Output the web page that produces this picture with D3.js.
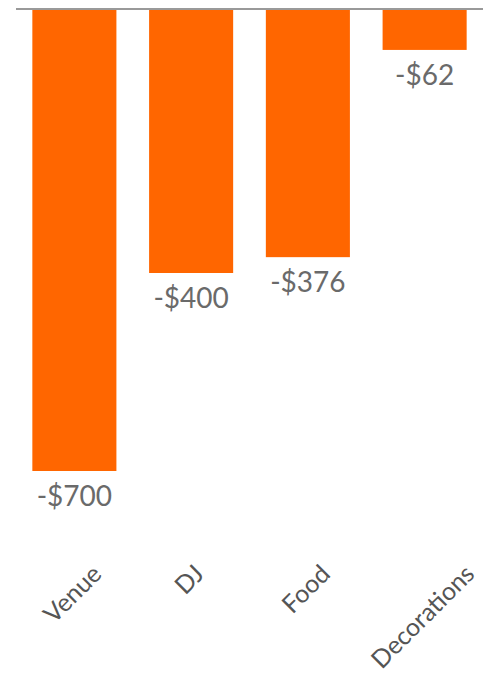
<!DOCTYPE html>
<html>
<head>
<meta charset="utf-8">
<script src="https://cdn.jsdelivr.net/npm/d3@7"></script>
<style>
  body { margin: 0; background: #fff; }
  svg { display: block; font-family: Lato, sans-serif; }
</style>
</head>
<body>
<svg id="chart" width="488" height="675"></svg>
<script>
const categories = ["Venue", "DJ", "Food", "Decorations"];
const values = [-700, -400, -376, -62];

const svg = d3.select("#chart");
const margin = {top: 9, left: 16, right: 5};

const x = d3.scaleBand()
    .domain(categories)
    .range([margin.left, 488 - margin.right])
    .paddingInner(0.28)
    .paddingOuter(0.14);

const y = d3.scaleLinear()
    .domain([0, -700])
    .range([margin.top, 471]);

svg.append("g")
    .selectAll("rect")
    .data(values)
    .enter().append("rect")
    .attr("x", (d, i) => x(categories[i]))
    .attr("width", x.bandwidth())
    .attr("y", y(0))
    .attr("height", d => y(d) - y(0))
    .attr("fill", "#ff6600");

// baseline
svg.append("line")
    .attr("x1", margin.left)
    .attr("x2", 488 - margin.right)
    .attr("y1", y(0))
    .attr("y2", y(0))
    .attr("stroke", "#999")
    .attr("stroke-width", 2);

svg.append("g")
    .selectAll("text")
    .data(values)
    .enter().append("text")
    .attr("x", (d, i) => x(categories[i]) + x.bandwidth() / 2)
    .attr("y", d => y(d) + 35)
    .attr("text-anchor", "middle")
    .attr("font-size", 28)
    .attr("fill", "#6a6a6a")
    .text(d => "-$" + Math.abs(d));

// category labels: centred on the bar, rotated, top of the box at a fixed line
const fs = 25;
const labels = svg.append("g")
    .selectAll("text")
    .data(categories)
    .enter().append("text")
    .attr("text-anchor", "middle")
    .attr("dy", "0.35em")
    .attr("font-size", fs)
    .attr("fill", "#555")
    .text(d => d);

labels.each(function(d) {
    const w = this.getComputedTextLength();
    const cx = x(d) + x.bandwidth() / 2 - 2;
    const cy = 563 + Math.SQRT1_2 * (w / 2 + 0.36 * fs);
    d3.select(this).attr("transform", `translate(${cx},${cy}) rotate(-45)`);
});
</script>
</body>
</html>
